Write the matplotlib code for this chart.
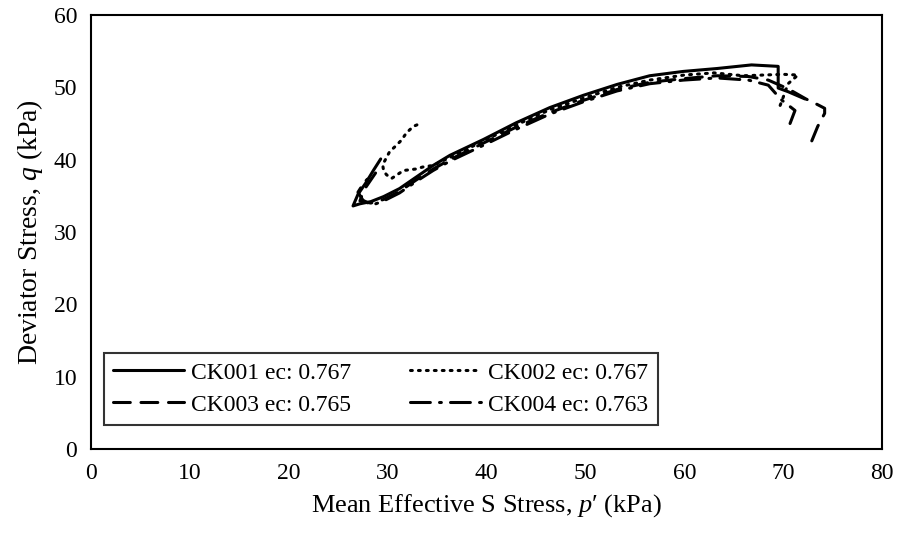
import matplotlib
matplotlib.use("Agg")
import matplotlib.pyplot as plt

plt.rcParams['font.family'] = ['Liberation Serif', 'DejaVu Serif']
plt.rcParams['mathtext.fontset'] = 'custom'
plt.rcParams['mathtext.it'] = 'Liberation Serif:italic'
plt.rcParams['mathtext.rm'] = 'Liberation Serif'

labels = ["CK001 ec: 0.767", "CK002 ec: 0.767", "CK003 ec: 0.765", "CK004 ec: 0.763"]

ck001_p = [72.2, 70.5, 69.5, 69.5, 66.8, 63.3, 59.9, 56.5, 53.2, 49.8, 46.4, 43.0, 39.7, 36.3,
           34.6, 32.9, 31.2, 29.6, 28.3, 27.2, 26.5, 27.0, 27.8, 28.6, 29.3]
ck001_q = [48.4, 49.4, 49.9, 52.9, 53.1, 52.6, 52.2, 51.6, 50.4, 48.9, 47.2, 45.1, 42.8, 40.6,
           39.2, 37.6, 36.0, 34.9, 34.2, 33.9, 33.6, 35.2, 36.8, 38.6, 40.1]

ck002_p = [69.7, 70.0, 70.5, 71.5, 70.0, 68.0, 66.0, 63.0, 60.0, 56.5, 53.2, 49.8, 46.4, 43.0,
           39.7, 36.3, 34.6, 33.6, 32.8, 31.6, 30.4, 29.9, 29.6, 29.5, 30.2, 30.9, 31.4, 31.9,
           32.6, 33.3]
ck002_q = [47.5, 48.6, 50.5, 51.7, 51.8, 51.7, 51.6, 52.0, 51.7, 51.0, 50.0, 48.5, 46.9, 44.8,
           42.6, 40.3, 39.2, 39.0, 38.7, 38.5, 37.4, 37.9, 38.4, 39.3, 41.1, 42.0, 42.7, 43.7,
           44.6, 45.0]

ck003_p = [72.9, 73.5, 74.2, 74.2, 73.5, 72.3, 70.5, 68.5, 66.5, 63.3, 59.9, 56.5, 53.2, 49.8,
           46.4, 43.0, 39.7, 36.3, 34.6, 32.9, 31.2, 29.6, 28.3, 27.2, 27.6, 28.4, 29.2]
ck003_q = [42.6, 44.6, 46.4, 47.1, 47.6, 48.4, 49.8, 51.0, 51.5, 51.6, 51.2, 50.7, 49.7, 48.2,
           46.5, 44.5, 42.3, 40.0, 38.7, 37.2, 35.6, 34.5, 34.0, 34.3, 35.8, 37.4, 39.0]

ck004_p = [70.7, 71.2, 69.8, 68.5, 66.5, 63.3, 59.9, 56.5, 53.2, 49.8, 46.4, 43.0, 39.7, 36.3,
           34.6, 32.9, 31.2, 29.6, 28.4, 27.5, 27.0, 27.6, 28.3]
ck004_q = [45.0, 46.8, 48.3, 50.3, 51.0, 51.3, 51.0, 50.5, 49.5, 48.0, 46.3, 44.2, 42.0, 39.8,
           38.5, 37.0, 35.4, 34.3, 33.7, 34.4, 35.5, 36.8, 37.8]

x_ticks = [0, 10, 20, 30, 40, 50, 60, 70, 80]
y_ticks = [0, 10, 20, 30, 40, 50, 60]

fig = plt.figure(figsize=(9, 5.36), dpi=100)
ax = fig.add_axes([91/900, 1 - 449/536, (882-91)/900, (449-15)/536])

lw = 2.2
h1, = ax.plot(ck001_p, ck001_q, color='black', lw=lw, linestyle='-', label=labels[0],
              solid_joinstyle='round', solid_capstyle='round')
h2, = ax.plot(ck002_p, ck002_q, color='black', lw=lw, linestyle=(0, (0.6, 2.0)), label=labels[1],
              dash_capstyle='round')
h3, = ax.plot(ck003_p, ck003_q, color='black', lw=lw, linestyle=(0, (5.5, 3.5)), label=labels[2],
              dash_capstyle='round')
h4, = ax.plot(ck004_p, ck004_q, color='black', lw=lw, linestyle=(0, (6.5, 3, 0.6, 3)), label=labels[3],
              dash_capstyle='round')

ax.set_xlim(0, 80)
ax.set_ylim(0, 60)
ax.set_xticks(x_ticks)
ax.set_yticks(y_ticks)
ax.tick_params(length=0, labelsize=17, pad=10)
for s in ax.spines.values():
    s.set_linewidth(1.5)
    s.set_color('black')

ax.set_xlabel("Mean Effective S Stress, $\\it{p}$\u2032 (kPa)", fontsize=19, labelpad=6)
ax.set_ylabel("Deviator Stress, $\\it{q}$ (kPa)", fontsize=20, labelpad=6)

# matplotlib fills legend column-wise; order so rows read CK001/CK002, CK003/CK004
leg = ax.legend([h1, h3, h2, h4], [labels[0], labels[2], labels[1], labels[3]],
                loc='lower left', bbox_to_anchor=(0.016, 0.055), ncol=2, fontsize=17,
                frameon=True, fancybox=False, edgecolor='black', handlelength=3.0,
                handletextpad=0.3, columnspacing=2.5, borderpad=0.4, labelspacing=0.45,
                borderaxespad=0)
leg.get_frame().set_linewidth(1.5)

fig.savefig("out.png", dpi=100)
